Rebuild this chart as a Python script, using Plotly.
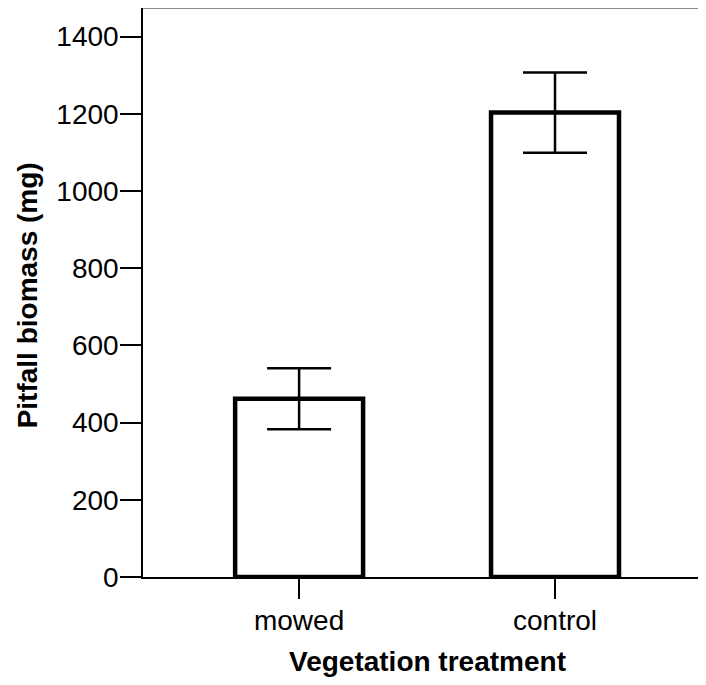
import plotly.graph_objects as go

categories = ["mowed", "control"]
biomass = [462, 1203]
errors = [79, 104]
y_ticks = [0, 200, 400, 600, 800, 1000, 1200, 1400]

FONT = "Arial, 'Liberation Sans', Helvetica, sans-serif"

fig = go.Figure()
fig.add_trace(go.Bar(
    x=categories, y=biomass, width=0.5,
    marker=dict(color="white", line=dict(color="black", width=4.5)),
    error_y=dict(type="data", array=errors, visible=True,
                 color="black", thickness=2.5, width=32),
))

fig.update_layout(
    width=698, height=669,
    margin=dict(l=135, r=0, t=0, b=100),
    paper_bgcolor="white", plot_bgcolor="white",
    showlegend=False,
    font=dict(family=FONT, size=28, color="black"),
    xaxis=dict(
        range=[-0.61, 1.59], showline=True, linecolor="black", linewidth=1.5,
        ticks="outside", ticklen=20, tickwidth=2, tickcolor="black",
        showgrid=False, zeroline=False, automargin=False, ticklabelstandoff=-2,
    ),
    yaxis=dict(
        range=[0, 1474], tickvals=y_ticks, showline=True, linecolor="black", linewidth=1.5,
        ticks="outside", ticklen=21, tickwidth=2, tickcolor="black",
        showgrid=False, zeroline=False, automargin=False, ticklabelstandoff=-4,
    ),
    shapes=[dict(type="line", xref="paper", yref="paper", x0=0, x1=1, y0=1, y1=1,
                 line=dict(color="#666666", width=1.5))],
    annotations=[
        dict(text="<b>Vegetation treatment</b>", xref="x", yref="paper",
             x=0.5, y=-0.149, xanchor="center", yanchor="middle",
             showarrow=False, font=dict(size=28)),
        dict(text="<b>Pitfall biomass (mg)</b>", xref="paper", yref="paper",
             x=-0.206, y=0.495, xanchor="center", yanchor="middle", textangle=-90,
             showarrow=False, font=dict(size=28)),
    ],
)

fig.write_html("out.html")
